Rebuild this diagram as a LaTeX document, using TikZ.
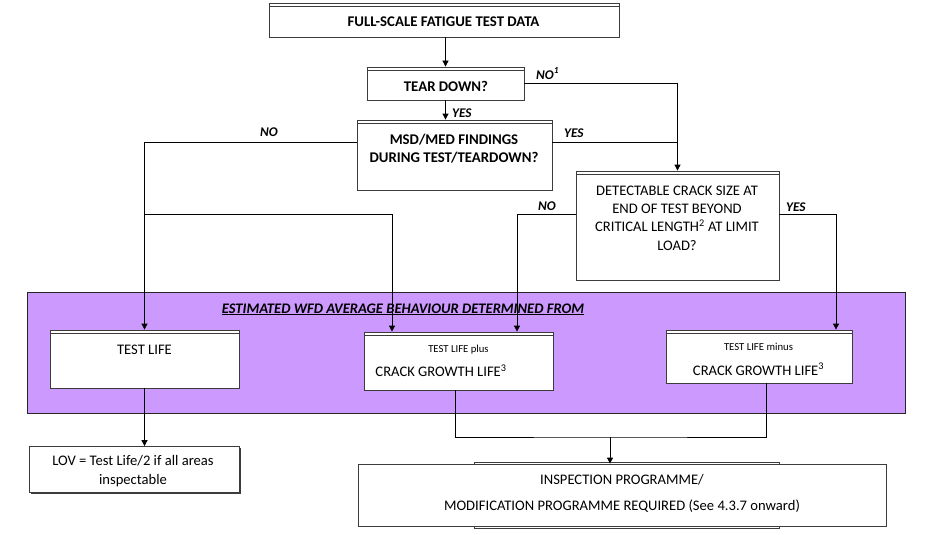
\documentclass[tikz,border=0pt]{standalone}
\usepackage{fontspec}
\setmainfont{Carlito}
\usetikzlibrary{positioning,arrows.meta,shadows}

\definecolor{wfdpurple}{RGB}{204,153,255}
\definecolor{boxline}{RGB}{60,60,60}

\tikzset{
  plainbox/.style={draw=boxline, fill=white, line width=0.8pt, inner sep=0pt},
  box/.style={plainbox,
    path picture={\draw[boxline, line width=0.6pt]
      ([yshift=-3.5pt]path picture bounding box.north west) --
      ([yshift=-3.5pt]path picture bounding box.north east);}},
  band/.style={draw=black!85, fill=wfdpurple, line width=0.8pt, inner sep=0pt},
  boldtxt/.style={font=\fontsize{14.8}{18}\selectfont\bfseries, align=center, inner sep=0pt},
  plaintxt/.style={font=\fontsize{14.6}{18.3}\selectfont, align=center, inner sep=0pt},
  smalltxt/.style={font=\fontsize{10.7}{12}\selectfont, inner sep=0pt},
  answer/.style={font=\fontsize{13.3}{15}\selectfont\bfseries\itshape, inner sep=0pt},
  flow/.style={line width=0.8pt},
  flowarr/.style={flow, -{Triangle[length=6pt,width=6pt]}},
}

\begin{document}
\begin{tikzpicture}[x=1pt,y=-1pt]
  \useasboundingbox (0,0) rectangle (931,535);

  % purple band
  \node[band, minimum width=878pt, minimum height=121pt] (wfd) at (466,352.5) {};
  \node[boldtxt, font=\fontsize{14.6}{18}\selectfont\bfseries\itshape, anchor=base] (wfdtitle)
    at (403,313) {\underline{ESTIMATED WFD AVERAGE BEHAVIOUR DETERMINED FROM}};

  % decision boxes (multi-line texts sit on the baseline of their last line)
  \node[box, minimum width=350pt, minimum height=34pt] (data) at (444,20) {};
  \node[boldtxt, anchor=base] (datatxt) at (443.5,27) {FULL-SCALE FATIGUE TEST DATA};

  \node[box, minimum width=157pt, minimum height=33pt] (tear) at (445.5,83.5) {};
  \node[boldtxt, anchor=base] (teartxt) at (446,92) {TEAR DOWN?};

  \node[box, minimum width=195pt, minimum height=70pt] (msd) at (454.5,155) {};
  \node[boldtxt, anchor=base] (msdtxt) at (454,162) {MSD/MED FINDINGS\\DURING TEST/TEARDOWN?};

  \node[box, minimum width=203pt, minimum height=109pt] (detect) at (677.5,225.5) {};
  \node[plaintxt, anchor=base] (detecttxt) at (677,250)
    {DETECTABLE CRACK SIZE AT\\END OF TEST BEYOND\\CRITICAL LENGTH\textsuperscript{2} AT LIMIT\\LOAD?};

  % result boxes
  \node[box, minimum width=189pt, minimum height=58pt] (testlife) at (144.5,359) {};
  \node[plaintxt, anchor=base] (testlifetxt) at (144.5,354) {TEST LIFE};

  \node[box, minimum width=189pt, minimum height=58pt] (plus) at (458.5,361) {};
  \node[smalltxt, anchor=base] (plustop) at (458.5,352.7) {TEST LIFE plus};
  \node[plaintxt, anchor=base] (plustxt) at (441,376.7) {CRACK GROWTH LIFE\textsuperscript{3}};

  \node[box, minimum width=186pt, minimum height=53pt] (minus) at (759,356.5) {};
  \node[smalltxt, anchor=base] (minustop) at (758.5,350) {TEST LIFE minus};
  \node[plaintxt, anchor=base] (minustxt) at (758.5,375) {CRACK GROWTH LIFE\textsuperscript{3}};

  \node[plainbox, drop shadow={shadow xshift=1.5pt, shadow yshift=-1.5pt, fill=boxline, opacity=1},
    minimum width=210pt, minimum height=46pt] (lov) at (134,469.5) {};
  \node[plaintxt, anchor=base] (lovtxt) at (133,484) {LOV = Test Life/2 if all areas\\inspectable};

  \node[plainbox, minimum width=305pt, minimum height=66pt] (inspback) at (626.5,495) {};
  \node[plainbox, minimum width=528pt, minimum height=62pt] (insp) at (622,495) {};
  \node[plaintxt, font=\fontsize{14.6}{25.5}\selectfont, anchor=base] (insptxt) at (622,510)
    {INSPECTION PROGRAMME/\\MODIFICATION PROGRAMME REQUIRED (See 4.3.7 onward)};

  % connectors
  \draw[flowarr] (data.south -| tear.north) -- (tear.north);
  \draw[flowarr] (tear.south) -- (tear.south |- msd.north);
  \draw[flowarr] (tear.east) -| (detect.north);
  \draw[flow] ([yshift=13pt]msd.east) -- ([yshift=13pt]msd.east -| detect.north);
  \draw[flowarr] ([yshift=13pt]msd.west) -| (testlife.north);
  \coordinate (split) at (144.5,214);
  \draw[flowarr] (split) -| ([xshift=-66.5pt]plus.north);
  \draw[flowarr] ([yshift=11.5pt]detect.west) -| ([xshift=58.5pt]plus.north);
  \draw[flowarr] ([yshift=11.5pt]detect.east) -| ([xshift=77pt]minus.north);
  \draw[flowarr] (testlife.south) -- (testlife.south |- lov.north);
  \coordinate (join) at (610,437);
  \draw[flow] ([xshift=-3.5pt]plus.south) |- (join) -| ([xshift=7pt]minus.south);
  \draw[flowarr] (join) -- (join |- insp.north);

  % answers
  \node[answer, anchor=base west] (no1) at (536,79) {NO\textsuperscript{1}};
  \node[answer, anchor=base west] (yes1) at (452,117.5) {YES};
  \node[answer, anchor=base west] (no2) at (260,136.5) {NO};
  \node[answer, anchor=base west] (yes2) at (564,137.5) {YES};
  \node[answer, anchor=base west] (no3) at (538,210) {NO};
  \node[answer, anchor=base west] (yes3) at (786,211) {YES};
\end{tikzpicture}
\end{document}
